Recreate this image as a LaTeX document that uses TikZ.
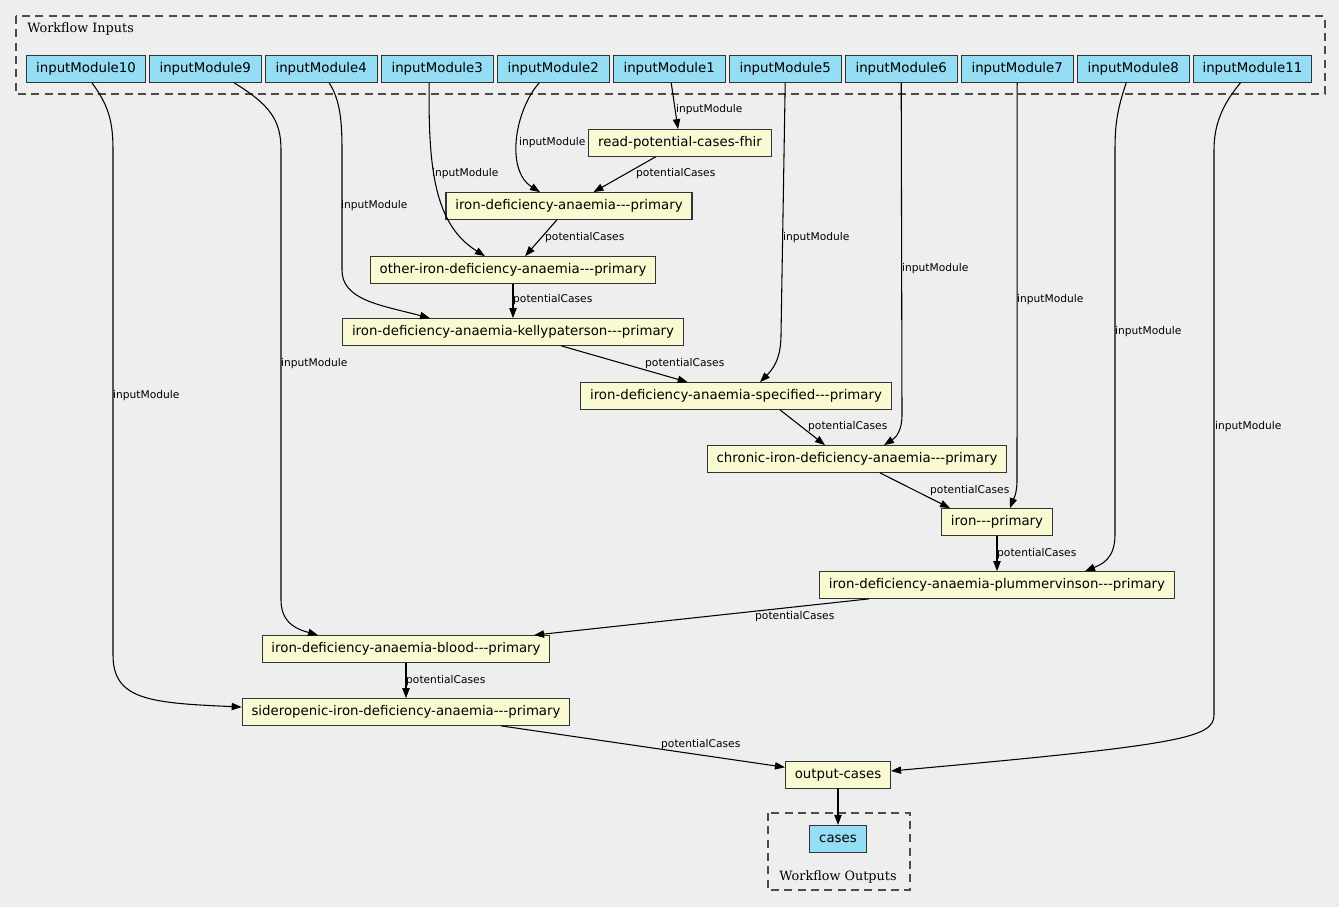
\documentclass[tikz,border=0pt]{standalone}
\usepackage{fontspec}
\setmainfont{DejaVu Sans}
\newfontfamily\clfont{DejaVu Serif}
\usetikzlibrary{positioning,calc,arrows.meta}
\definecolor{bgcol}{HTML}{EEEEEE}
\definecolor{incol}{HTML}{94DDF4}
\definecolor{stepcol}{HTML}{FAFAD2}
\newcommand\tridash{-\kern0pt-\kern0pt-}
\tikzset{
	box/.style={draw=black!80, line width=0.8pt, minimum height=20pt, inner xsep=7pt, inner ysep=2pt, font=\fontsize{10}{12}\selectfont},
	inbox/.style={box, fill=incol, minimum width=84pt},
	outbox/.style={box, fill=incol},
	stepbox/.style={box, fill=stepcol},
	arr/.style={-{Triangle[length=7.5pt,width=5.5pt]}, line width=0.8pt},
	lab/.style={font=\fontsize{8}{9}\selectfont, inner sep=0.5pt, anchor=west},
	cluster/.style={draw=black!70, line width=0.8pt, dash pattern=on 6pt off 4pt},
	cltext/.style={font=\clfont\fontsize{9.6}{11}\selectfont, inner sep=0pt},
}
\begin{document}
\begin{tikzpicture}[x=0.75pt,y=-0.75pt]
		\path[fill=bgcol] (0,0) rectangle (1339,907);
		\draw[cluster] (16,16) rectangle (1325,94);
		\node[cltext, anchor=west] (inlab) at (27,29) {Workflow Inputs};
		\draw[cluster] (768,813) rectangle (910,890);
		\node[cltext] (outlab) at (838,877) {Workflow Outputs};
		
		\node[inbox] (im10) at (86,69) {inputModule10};
		\node[inbox, right=2.2pt of im10] (im9) {inputModule9};
		\node[inbox, right=2.2pt of im9] (im4) {inputModule4};
		\node[inbox, right=2.2pt of im4] (im3) {inputModule3};
		\node[inbox, right=2.2pt of im3] (im2) {inputModule2};
		\node[inbox, right=2.2pt of im2] (im1) {inputModule1};
		\node[inbox, right=2.2pt of im1] (im5) {inputModule5};
		\node[inbox, right=2.2pt of im5] (im6) {inputModule6};
		\node[inbox, right=2.2pt of im6] (im7) {inputModule7};
		\node[inbox, right=2.2pt of im7] (im8) {inputModule8};
		\node[inbox, right=2.2pt of im8] (im11) {inputModule11};
		
		\node[stepbox] (read) at (680,143) {read-potential-cases-fhir};
		\node[stepbox] (ida) at (569,206) {iron-deficiency-anaemia\tridash primary};
		\node[stepbox] (other) at (513,270) {other-iron-deficiency-anaemia\tridash primary};
		\node[stepbox] (kelly) at (513,332) {iron-deficiency-anaemia-kellypaterson\tridash primary};
		\node[stepbox] (spec) at (736,396) {iron-deficiency-anaemia-specified\tridash primary};
		\node[stepbox] (chronic) at (857,459) {chronic-iron-deficiency-anaemia\tridash primary};
		\node[stepbox] (iron) at (997,522) {iron\tridash primary};
		\node[stepbox] (plummer) at (997,585) {iron-deficiency-anaemia-plummervinson\tridash primary};
		\node[stepbox] (blood) at (406,649) {iron-deficiency-anaemia-blood\tridash primary};
		\node[stepbox] (sidero) at (406,712) {sideropenic-iron-deficiency-anaemia\tridash primary};
		\node[stepbox] (out) at (838,775) {output-cases};
		\node[outbox, below=27pt of out] (cases) {cases};
		
		\draw[arr] (im1) -- (read) node[lab] at (675,110) {inputModule};
		\draw[arr] ($(im2.south)+(-14,0)$) .. controls (515,110) and (505,170) .. ($(ida.north)+(-29,0)$) node[lab] at (518,143) {inputModule};
		\draw[arr] (read) -- (ida) node[lab] at (635,174) {potentialCases};
		\draw[arr] ($(im3.south)+(-8,0)$) .. controls (428,170) and (435,225) .. ($(other.north)+(-28,0)$) node[lab] at (431,174) {inputModule};
		\draw[arr] (ida) -- (other) node[lab] at (544,238) {potentialCases};
		\draw[arr] ($(im4.south)+(8,0)$) .. controls (340,100) and (342,120) .. (342,150) -- (342,270) .. controls (342,300) and (380,305) .. ($(kelly.north)+(-83,0)$) node[lab] at (340,206) {inputModule};
		\draw[arr] (other) -- (kelly) node[lab] at (512,300) {potentialCases};
		\draw[arr] (im5.south) -- (781,335) .. controls (781,360) and (772,370) .. ($(spec.north)+(24,0)$) node[lab] at (782,238) {inputModule};
		\draw[arr] (kelly) -- (spec) node[lab] at (644,364) {potentialCases};
		\draw[arr] (im6.south) -- (902,415) .. controls (902,432) and (895,438) .. ($(chronic.north)+(27,0)$) node[lab] at (901,269) {inputModule};
		\draw[arr] ($(spec.south)+(44,0)$) -- ($(chronic.north)+(-32,0)$) node[lab] at (807,427) {potentialCases};
		\draw[arr] (im7.south) -- (1017,480) .. controls (1017,495) and (1013,500) .. ($(iron.north)+(13,0)$) node[lab] at (1016,300) {inputModule};
		\draw[arr] ($(chronic.south)+(23,0)$) -- ($(iron.north)+(-47,0)$) node[lab] at (929,491) {potentialCases};
		\draw[arr] ($(im8.south)+(-7,0)$) .. controls (1117,110) and (1115,125) .. (1115,150) -- (1115,535) .. controls (1115,560) and (1100,565) .. ($(plummer.north)+(88,0)$) node[lab] at (1114,332) {inputModule};
		\draw[arr] (iron) -- (plummer) node[lab] at (996,554) {potentialCases};
		\draw[arr] ($(im9.south)+(29,0)$) .. controls (270,105) and (281,120) .. (281,150) -- (281,600) .. controls (281,625) and (300,630) .. ($(blood.north)+(-88,0)$) node[lab] at (280,364) {inputModule};
		\draw[arr] (plummer) -- (blood) node[lab] at (754,617) {potentialCases};
		\draw[arr] ($(im10.south)+(6,0)$) .. controls (108,105) and (113,120) .. (113,150) -- (113,655) .. controls (113,700) and (150,703) .. ($(sidero.west)+(0,-5)$) node[lab] at (112,396) {inputModule};
		\draw[arr] (blood) -- (sidero) node[lab] at (405,681) {potentialCases};
		\draw[arr] (sidero) -- (out) node[lab] at (660,745) {potentialCases};
		\draw[arr] ($(im11.south)+(-12,0)$) .. controls (1222,105) and (1214,125) .. (1214,150) -- (1214,715) .. controls (1214,738) and (1180,745) .. ($(out.east)+(0,-4)$) node[lab] at (1214,427) {inputModule};
		\draw[arr] (out) -- (cases);
	\end{tikzpicture}
\end{document}
